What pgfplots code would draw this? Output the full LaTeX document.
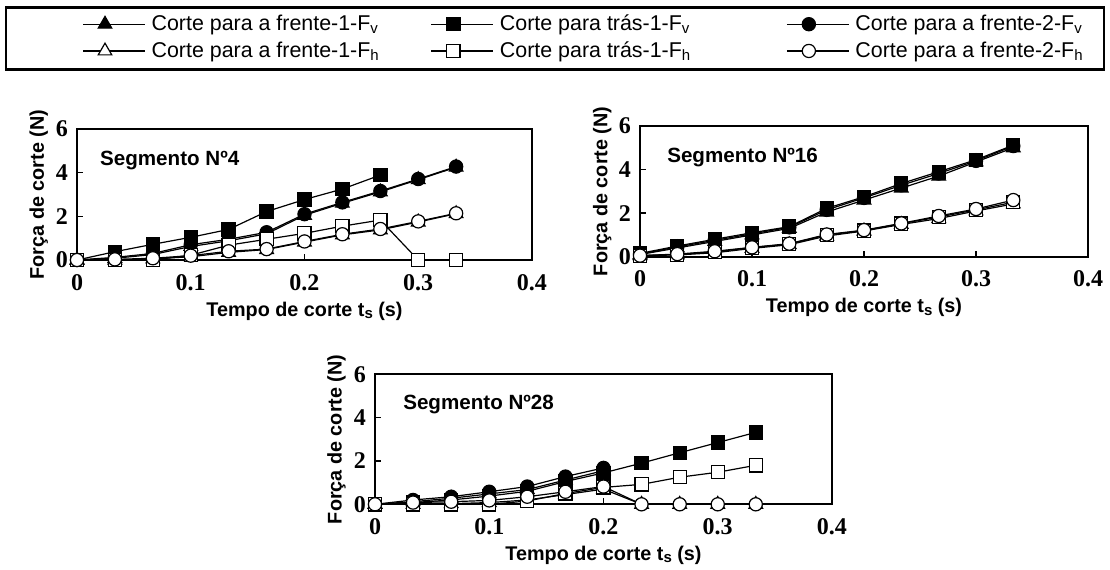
\documentclass[border=0pt]{standalone}
\usepackage{fontspec}
\setmainfont{Liberation Sans}
\newfontfamily\tickfont{Liberation Serif}
\usepackage{pgfplots}
\usepackage{pgfplotstable}
\pgfplotsset{compat=1.18}

% t, A=frente-1-Fv, B=tras-1-Fv, C=frente-2-Fv, D=frente-1-Fh, E=tras-1-Fh, F=frente-2-Fh
\pgfplotstableread{
t      A     B     C     D     E     F
0      0     0     0     0     0     0
0.0333 0.08  0.38  0.12  0     0     0.03
0.0667 0.25  0.72  0.30  0.05  0     0.08
0.1    0.62  1.04  0.70  0.15  0.22  0.20
0.1333 0.88  1.40  0.95  0.35  0.68  0.40
0.1667 1.20  2.22  1.27  0.48  0.95  0.50
0.2    2.05  2.77  2.10  0.82  1.22  0.85
0.2333 2.60  3.25  2.64  1.15  1.55  1.18
0.2667 3.12  3.89  3.16  1.38  1.83  1.42
0.3    3.68  nan   3.71  1.74  0     1.77
0.3333 4.25  nan   4.28  2.12  0     2.14
}\segA
\pgfplotstableread{
t      A     B     C     D     E     F
0      0.10  0.15  0.12  0.05  0.05  0.05
0.0333 0.40  0.49  0.45  0.08  0.10  0.12
0.0667 0.70  0.80  0.75  0.18  0.22  0.25
0.1    1.00  1.10  1.05  0.38  0.42  0.43
0.1333 1.30  1.38  1.35  0.55  0.58  0.60
0.1667 2.05  2.22  2.15  0.95  1.00  1.02
0.2    2.60  2.75  2.70  1.18  1.20  1.22
0.2333 3.15  3.36  3.28  1.48  1.52  1.53
0.2667 3.70  3.90  3.82  1.75  1.82  1.87
0.3    4.35  4.45  4.40  2.10  2.15  2.19
0.3333 5.00  5.12  5.08  2.42  2.50  2.60
}\segB
\pgfplotstableread{
t      A     B     C     D     E     F
0      0     0     0     0     0     0
0.0333 0.12  0.08  0.20  0     0     0.08
0.0667 0.28  0.20  0.35  0.03  0     0.12
0.1    0.48  0.38  0.58  0.08  0     0.18
0.1333 0.68  0.60  0.82  0.20  0.15  0.35
0.1667 1.12  1.05  1.28  0.45  0.50  0.58
0.2    1.55  1.45  1.68  0.70  0.78  0.82
0.2333 nan   1.90  nan   0     0.92  0
0.2667 nan   2.38  nan   0     1.25  0
0.3    nan   2.85  nan   0     1.48  0
0.3333 nan   3.32  nan   0     1.80  0
}\segC

\newcommand{\lblfont}{\fontsize{9.9}{11}\selectfont\bfseries}
\newcommand{\segfont}{\fontsize{10.3}{11}\selectfont\bfseries}
\pgfplotsset{
  limg/.style={legend image code/.code={%
    \draw[mark repeat=2,mark phase=2] plot coordinates {(0pt,0pt) (11pt,0pt) (31pt,0pt)};}},
  ftri/.style={limg, mark=triangle*, mark size=3.9pt, mark options={solid, fill=black, draw=black}},
  otri/.style={limg, mark=triangle*, mark size=3.9pt, mark options={solid, fill=white, draw=black}},
  fsq/.style={limg, mark=square*, mark size=3.3pt, mark options={solid, fill=black, draw=black}},
  osq/.style={limg, mark=square*, mark size=3.3pt, mark options={solid, fill=white, draw=black}},
  fcir/.style={limg, mark=*, mark size=3.3pt, mark options={solid, fill=black, draw=black}},
  ocir/.style={limg, mark=*, mark size=3.3pt, mark options={solid, fill=white, draw=black}},
  seg/.style={
    scale only axis, anchor=south west,
    xmin=0, xmax=0.4, ymin=0, ymax=6,
    xtick={0,0.1,0.2,0.3,0.4}, ytick={0,2,4,6},
    tick align=inside, xtick pos=bottom, ytick pos=left,
    major tick length=3pt,
    tick style={black, line width=0.8pt},
    axis line style={line width=1pt},
    clip=false,
    /pgf/number format/assume math mode=true,
    ticklabel style={font=\tickfont\bfseries\fontsize{12}{13}\selectfont},
    xticklabel style={yshift=-3.5pt},
    yticklabel style={xshift=-1pt},
    xlabel={Tempo de corte t\raisebox{-0.25ex}{\fontsize{7.5}{8}\selectfont s} (s)},
    ylabel={Força de corte (N)},
    label style={font=\lblfont},
    xlabel style={at={(axis description cs:0.5,-0.39)}, anchor=center},
    ylabel style={at={(axis description cs:-0.084,0.5)}, anchor=center},
    every axis plot/.append style={black, line width=0.6pt},
  },
}

\begin{document}
\begin{tikzpicture}
\useasboundingbox (0pt,0pt) rectangle (555pt,-284.5pt);
\draw[line width=1.4pt] (3pt,-3.8pt) rectangle (552pt,-34.8pt);

\begin{axis}[seg, at={(38.5pt,-130pt)}, width=227.5pt, height=65.5pt,
  legend columns=3, legend cell align=left,
  legend style={draw=none, fill=none, inner sep=0pt,
    at={(axis description cs:0.011,1.89)}, anchor=north west,
    font=\fontsize{10.7}{12}\selectfont,
    nodes={inner xsep=3pt, inner ysep=1pt},
    /tikz/row sep=2pt,
    /tikz/column 2/.style={column sep=22.5pt},
    /tikz/column 4/.style={column sep=44.5pt}},
]
\addplot[ftri] table[x=t,y=A]{\segA};
\addlegendentry{Corte para a frente-1-F\textsubscript{v}}
\addplot[fsq] table[x=t,y=B]{\segA};
\addlegendentry{Corte para trás-1-F\textsubscript{v}}
\addplot[fcir] table[x=t,y=C]{\segA};
\addlegendentry{Corte para a frente-2-F\textsubscript{v}}
\addplot[otri] table[x=t,y=D]{\segA};
\addlegendentry{Corte para a frente-1-F\textsubscript{h}}
\addplot[osq] table[x=t,y=E]{\segA};
\addlegendentry{Corte para trás-1-F\textsubscript{h}}
\addplot[ocir] table[x=t,y=F]{\segA};
\addlegendentry{Corte para a frente-2-F\textsubscript{h}}
\node[anchor=west, inner sep=0pt, font=\segfont] at (axis description cs:0.05,0.76) {Segmento Nº4};
\end{axis}

\begin{axis}[seg, at={(320pt,-128.35pt)}, width=224pt, height=65.35pt]
\addplot[ftri] table[x=t,y=A]{\segB};
\addplot[fsq] table[x=t,y=B]{\segB};
\addplot[fcir] table[x=t,y=C]{\segB};
\addplot[otri] table[x=t,y=D]{\segB};
\addplot[osq] table[x=t,y=E]{\segB};
\addplot[ocir] table[x=t,y=F]{\segB};
\node[anchor=west, inner sep=0pt, font=\segfont] at (axis description cs:0.06,0.76) {Segmento Nº16};
\end{axis}

\begin{axis}[seg, at={(187.5pt,-252.15pt)}, width=228.5pt, height=65pt]
\addplot[ftri] table[x=t,y=A]{\segC};
\addplot[fsq] table[x=t,y=B]{\segC};
\addplot[fcir] table[x=t,y=C]{\segC};
\addplot[otri] table[x=t,y=D]{\segC};
\addplot[osq] table[x=t,y=E]{\segC};
\addplot[ocir] table[x=t,y=F]{\segC};
\node[anchor=west, inner sep=0pt, font=\segfont] at (axis description cs:0.061,0.77) {Segmento Nº28};
\end{axis}
\end{tikzpicture}
\end{document}
